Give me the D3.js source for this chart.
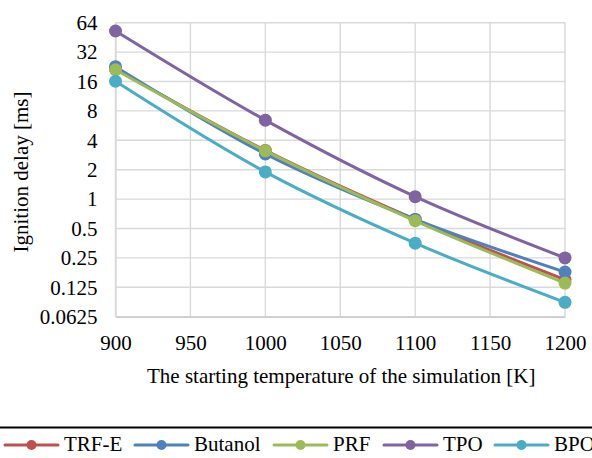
<!DOCTYPE html>
<html>
<head>
<meta charset="utf-8">
<script src="https://cdn.jsdelivr.net/npm/d3@7"></script>
<style>
  html, body { margin: 0; padding: 0; background: #fff; }
  svg { display: block; }
</style>
</head>
<body>
<svg id="chart" width="592" height="458"></svg>
<script>
// Starting temperatures [K]
const temperatures = [900, 1000, 1100, 1200];

// Ignition delay [ms] per fuel
const trfE    = [21.5, 3.15, 0.62, 0.15];
const butanol = [22.7, 2.9, 0.62, 0.179];
const prf     = [21.1, 3.12, 0.60, 0.138];
const tpo     = [52.6, 6.43, 1.06, 0.25];
const bpo     = [16.1, 1.9, 0.354, 0.0877];

const seriesNames = ["TRF-E", "Butanol", "PRF", "TPO", "BPO"];
const seriesColors = ["#C0504D", "#4F81BD", "#9BBB59", "#8064A2", "#4BACC6"];

const xTicks = [900, 950, 1000, 1050, 1100, 1150, 1200];
const yTicks = [0.0625, 0.125, 0.25, 0.5, 1, 2, 4, 8, 16, 32, 64];
const yTickLabels = ["0.0625", "0.125", "0.25", "0.5", "1", "2", "4", "8", "16", "32", "64"];

const FONT = "'Liberation Serif'";
const FONT_SIZE = 21;

const series = [trfE, butanol, prf, tpo, bpo].map((vals, i) => ({
  name: seriesNames[i],
  color: seriesColors[i],
  values: vals.map((v, j) => ({ t: temperatures[j], v }))
}));

const svg = d3.select("#chart");
const plot = { left: 115.5, right: 565, top: 22.7, bottom: 316.7 };

const x = d3.scaleLinear().domain([900, 1200]).range([plot.left, plot.right]);
const y = d3.scaleLog().base(2).domain([0.0625, 64]).range([plot.bottom, plot.top]);

// Gridlines
const grid = svg.append("g").attr("stroke", "#d9d9d9").attr("stroke-width", 1.4);
grid.selectAll("line.h").data(yTicks).join("line")
  .attr("x1", plot.left).attr("x2", plot.right)
  .attr("y1", d => y(d)).attr("y2", d => y(d));
grid.selectAll("line.v").data(xTicks).join("line")
  .attr("y1", plot.top).attr("y2", plot.bottom)
  .attr("x1", d => x(d)).attr("x2", d => x(d));

// Axes
const xAxis = svg.append("g")
  .attr("transform", `translate(0,${plot.bottom})`)
  .call(d3.axisBottom(x).tickValues(xTicks).tickSize(0).tickPadding(18).tickFormat(d3.format("d")));
xAxis.select(".domain").attr("stroke", "#cccccc").attr("stroke-width", 1.4);

const yAxis = svg.append("g")
  .attr("transform", `translate(${plot.left},0)`)
  .call(d3.axisLeft(y).tickValues(yTicks).tickSize(0).tickPadding(18)
    .tickFormat((d, i) => yTickLabels[i]));
yAxis.select(".domain").attr("stroke", "#d9d9d9").attr("stroke-width", 1.4);

// Axis titles
svg.append("text")
  .attr("x", (plot.left + plot.right) / 2 + 1).attr("y", 383)
  .attr("text-anchor", "middle")
  .text("The starting temperature of the simulation [K]");

svg.append("text")
  .attr("transform", `translate(27.5,172) rotate(-90)`)
  .attr("text-anchor", "middle")
  .text("Ignition delay [ms]");

// Series lines and markers
const line = d3.line()
  .x(d => x(d.t)).y(d => y(d.v))
  .curve(d3.curveCatmullRom.alpha(0.5));

const sg = svg.append("g").selectAll("g").data(series).join("g");
sg.append("path")
  .attr("d", d => line(d.values))
  .attr("fill", "none").attr("stroke", d => d.color)
  .attr("stroke-width", 3).attr("stroke-linecap", "round");
sg.selectAll("circle").data(d => d.values.map(p => ({ ...p, color: d.color }))).join("circle")
  .attr("cx", d => x(d.t)).attr("cy", d => y(d.v)).attr("r", 6.5)
  .attr("fill", d => d.color);

// Legend separator
svg.append("line")
  .attr("x1", 0).attr("x2", 592).attr("y1", 427.5).attr("y2", 427.5)
  .attr("stroke", "#000").attr("stroke-width", 2);

// Legend
const legendX = [5, 135, 274, 384, 495];
const legendY = 445;
const lg = svg.append("g").selectAll("g").data(series).join("g")
  .attr("transform", (d, i) => `translate(${legendX[i]},${legendY})`);
lg.append("line").attr("x1", 0).attr("x2", 53).attr("y1", 0).attr("y2", 0)
  .attr("stroke", d => d.color).attr("stroke-width", 3).attr("stroke-linecap", "round");
lg.append("circle").attr("cx", 26.5).attr("cy", 0).attr("r", 5).attr("fill", d => d.color);
lg.append("text").attr("x", 59).attr("y", 0).attr("dy", "0.3em")
  .text(d => d.name);

// Typography for every label
svg.selectAll("text")
  .style("font-family", FONT)
  .style("font-size", FONT_SIZE + "px")
  .attr("fill", "#000");
</script>
</body>
</html>
